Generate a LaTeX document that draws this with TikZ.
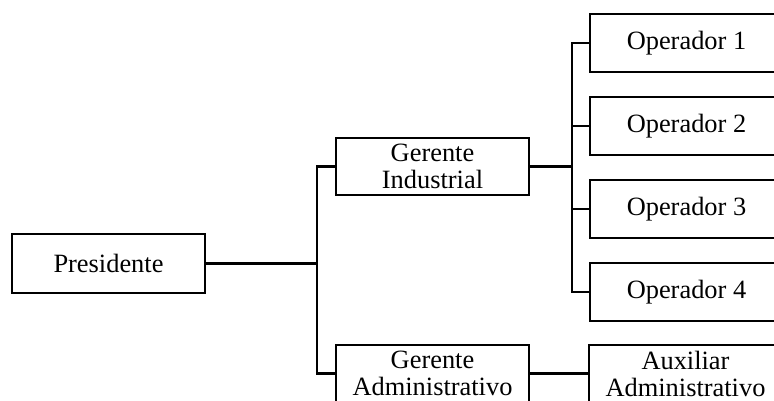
\documentclass[tikz,border=0pt]{standalone}
\usepackage{fontspec}
\setmainfont{Liberation Serif}
\begin{document}
\begin{tikzpicture}[x=1pt,y=-1pt,
  unit/.style={draw=black, line width=2pt, rectangle, minimum width=193pt,
    minimum height=58pt, inner sep=0pt, align=center,
    font=\fontsize{26.4}{27}\selectfont},
  link/.style={draw=black, line width=2.2pt}]
  \useasboundingbox (0,0) rectangle (774,401);
  \clip (0,0) rectangle (774,401);

  % organisation units
  \node[unit, minimum height=59pt] (pres) at (108.5,263.5) {Presidente};
  \node[unit, minimum height=57pt] (gi) at (432.5,166.5) {Gerente\\Industrial};
  \node[unit, minimum height=57pt] (ga) at (432.5,373.5) {Gerente\\Administrativo};
  \node[unit] (op1) at (686.5,43) {Operador 1};
  \node[unit] (op2) at (686.5,126) {Operador 2};
  \node[unit] (op3) at (686.5,209) {Operador 3};
  \node[unit] (op4) at (686.5,292) {Operador 4};
  \node[unit, minimum height=57pt] (aux) at (685.5,373.5) {Auxiliar\\Administrativo};

  % branching points
  \coordinate (jA) at (317,263.5);
  \coordinate (jB) at (572,166.5);

  % connectors
  \draw[link] (pres.east) -- (jA);
  \draw[link] (gi.west) -| (jA) |- (ga.west);
  \draw[link] (gi.east) -- (jB);
  \draw[link] (op1.west) -| (jB) |- (op4.west);
  \draw[link] (op2.west) -- (op2.west -| jB);
  \draw[link] (op3.west) -- (op3.west -| jB);
  \draw[link] (ga.east) -- (aux.west);
\end{tikzpicture}
\end{document}
